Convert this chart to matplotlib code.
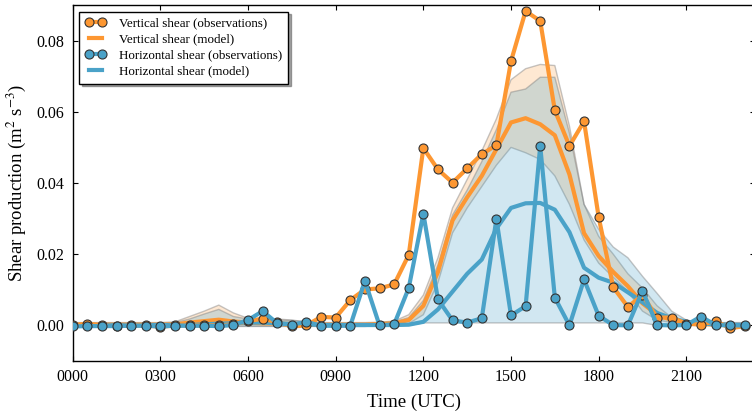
import matplotlib
matplotlib.use("Agg")
import matplotlib.pyplot as plt
import numpy as np

plt.rcParams['font.family'] = ['Liberation Serif', 'DejaVu Serif']
plt.rcParams['mathtext.fontset'] = 'stix'

hours = [0.0, 0.5, 1.0, 1.5, 2.0, 2.5, 3.0, 3.5, 4.0, 4.5, 5.0, 5.5, 6.0, 6.5, 7.0, 7.5,
         8.0, 8.5, 9.0, 9.5, 10.0, 10.5, 11.0, 11.5, 12.0, 12.5, 13.0, 13.5, 14.0, 14.5,
         15.0, 15.5, 16.0, 16.5, 17.0, 17.5, 18.0, 18.5, 19.0, 19.5, 20.0, 20.5, 21.0,
         21.5, 22.0, 22.5, 23.0]

vert_obs = [0.0, 0.0005, 0.0, -0.0002, 0.0, 0.0, -0.0004, 0.0, 0.0, 0.0, 0.0, 0.0003,
            0.0012, 0.0019, 0.0009, -0.0003, 0.0, 0.0024, 0.0022, 0.0071, 0.0101, 0.0104,
            0.0115, 0.0198, 0.0498, 0.0438, 0.0401, 0.0441, 0.0481, 0.0506, 0.0742, 0.0883,
            0.0855, 0.0604, 0.0504, 0.0573, 0.0304, 0.0107, 0.0052, 0.0085, 0.0022, 0.0022,
            0.0005, 0.0002, 0.0012, -0.0008, -0.0002]

horiz_obs = [-0.0003, -0.0002, -0.0002, -0.0002, -0.0001, -0.0001, -0.0003, -0.0001,
             -0.0001, -0.0001, -0.0002, 0.0001, 0.0015, 0.0040, 0.0006, 0.0002, 0.0010,
             -0.0001, -0.0001, -0.0001, 0.0125, 0.0, 0.0003, 0.0105, 0.0314, 0.0073, 0.0014,
             0.0008, 0.0020, 0.0299, 0.0028, 0.0054, 0.0504, 0.0078, 0.0, 0.0129, 0.0027,
             0.0001, 0.0, 0.0097, 0.0001, 0.0, 0.0001, 0.0025, 0.0001, 0.0, 0.0]

vert_model = [0.0002, 0.0002, 0.0002, 0.0002, 0.0002, 0.0002, 0.0002, 0.0003, 0.0008,
              0.0012, 0.0016, 0.0011, 0.0008, 0.0006, 0.0005, 0.0004, 0.0003, 0.0002,
              0.0002, 0.0002, 0.0002, 0.0004, 0.0006, 0.0015, 0.0055, 0.0150, 0.0295,
              0.0360, 0.0420, 0.0495, 0.0570, 0.0582, 0.0565, 0.0534, 0.0424, 0.0259,
              0.0195, 0.0150, 0.0110, 0.0062, 0.0030, 0.0015, 0.0008, 0.0004, 0.0002,
              0.0001, 0.0001]

horiz_model = [0.0001, 0.0001, 0.0001, 0.0001, 0.0001, 0.0001, 0.0001, 0.0001, 0.0001,
               0.0003, 0.0005, 0.0006, 0.0008, 0.0008, 0.0006, 0.0004, 0.0003, 0.0001,
               0.0001, 0.0001, 0.0001, 0.0001, 0.0001, 0.0002, 0.0010, 0.0045, 0.0095,
               0.0145, 0.0185, 0.0272, 0.0330, 0.0343, 0.0344, 0.0325, 0.0262, 0.0162,
               0.0134, 0.0120, 0.0093, 0.0065, 0.0035, 0.0020, 0.0010, 0.0005, 0.0003,
               0.0002, 0.0001]

vert_upper = [0.0008, 0.0008, 0.0008, 0.0008, 0.0008, 0.0008, 0.0008, 0.0010, 0.0025,
              0.0040, 0.0057, 0.0035, 0.0020, 0.0018, 0.0018, 0.0015, 0.0010, 0.0008,
              0.0008, 0.0008, 0.0008, 0.0009, 0.0012, 0.0030, 0.0085, 0.0190, 0.0330,
              0.0410, 0.0490, 0.0580, 0.0690, 0.0721, 0.0733, 0.0730, 0.0560, 0.0340,
              0.0250, 0.0200, 0.0145, 0.0105, 0.0055, 0.0022, 0.0010, 0.0006, 0.0006,
              0.0006, 0.0006]

vert_lower = [-0.0004, -0.0004, -0.0004, -0.0004, -0.0004, -0.0004, -0.0004, -0.0003,
              -0.0002, -0.0002, -0.0002, -0.0002, -0.0002, -0.0002, -0.0002, -0.0002,
              -0.0002, -0.0002, -0.0002, -0.0002, -0.0002, -0.0002, -0.0002, 0.0005,
              0.0030, 0.0120, 0.0260, 0.0330, 0.0390, 0.0450, 0.0500, 0.0485, 0.0466,
              0.0420, 0.0340, 0.0240, 0.0175, 0.0135, 0.0095, 0.0040, 0.0015, 0.0008,
              0.0002, 0.0002, 0.0002, 0.0002, 0.0002]

horiz_upper = [0.0006, 0.0006, 0.0006, 0.0006, 0.0006, 0.0006, 0.0006, 0.0008, 0.0018,
               0.0032, 0.0045, 0.0025, 0.0018, 0.0015, 0.0015, 0.0014, 0.0010, 0.0006,
               0.0006, 0.0006, 0.0006, 0.0007, 0.0010, 0.0022, 0.0070, 0.0170, 0.0310,
               0.0380, 0.0460, 0.0550, 0.0655, 0.0664, 0.0697, 0.0697, 0.0540, 0.0340,
               0.0270, 0.0220, 0.0190, 0.0138, 0.0090, 0.0040, 0.0015, 0.0008, 0.0008,
               0.0008, 0.0008]

horiz_lower = [-0.0003, -0.0003, -0.0003, -0.0003, -0.0003, -0.0003, -0.0003, -0.0003,
               -0.0003, -0.0003, -0.0003, -0.0003, -0.0003, -0.0003, -0.0003, -0.0003,
               -0.0003, -0.0003, -0.0003, -0.0003, -0.0003, 0.0, 0.0, 0.0, 0.0007, 0.0007,
               0.0007, 0.0007, 0.0007, 0.0007, 0.0007, 0.0007, 0.0007, 0.0007, 0.0007,
               0.0007, 0.0007, 0.0007, 0.0007, 0.0007, 0.0, 0.0, 0.0, 0.0, 0.0, 0.0, 0.0]

xtick_pos = [0, 3, 6, 9, 12, 15, 18, 21]
xtick_labels = ['0000', '0300', '0600', '0900', '1200', '1500', '1800', '2100']
ytick_pos = [0.00, 0.02, 0.04, 0.06, 0.08]

ORANGE = '#fd9732'
BLUE = '#4aa2c8'

fig = plt.figure(figsize=(7.52, 4.15), dpi=100)
ax = fig.add_axes([72.7 / 752, 54 / 415, (755 - 72.7) / 752, 356 / 415])

# orange (vertical) model spread, then blue (horizontal) spread on top
ax.fill_between(hours, vert_lower, vert_upper, facecolor=ORANGE, alpha=0.22,
                edgecolor='none', zorder=1)
ax.plot(hours, vert_upper, color='gray', alpha=0.45, lw=1, zorder=1.1)
ax.plot(hours, vert_lower, color='gray', alpha=0.45, lw=1, zorder=1.1)
ax.fill_between(hours, horiz_lower, horiz_upper, facecolor=BLUE, alpha=0.25,
                edgecolor='none', zorder=1.2)
ax.plot(hours, horiz_upper, color='gray', alpha=0.45, lw=1, zorder=1.3)
ax.plot(hours, horiz_lower, color='gray', alpha=0.45, lw=1, zorder=1.3)

l1, = ax.plot(hours, vert_obs, '-o', color=ORANGE, lw=3, ms=6.5, mec='#333333', mew=0.8,
              zorder=4, label='Vertical shear (observations)')
l2, = ax.plot(hours, vert_model, '-', color=ORANGE, lw=3, zorder=3,
              label='Vertical shear (model)')
l3, = ax.plot(hours, horiz_obs, '-o', color=BLUE, lw=3, ms=6.5, mec='#333333', mew=0.8,
              zorder=5, label='Horizontal shear (observations)')
l4, = ax.plot(hours, horiz_model, '-', color=BLUE, lw=3, zorder=3.5,
              label='Horizontal shear (model)')

ax.set_xlim(0, (755 - 72.7) / 29.22)
ax.set_ylim(-0.01, 0.09)
ax.set_xticks(xtick_pos)
ax.set_xticklabels(xtick_labels)
ax.set_yticks(ytick_pos)
ax.set_yticklabels(['%.2f' % v for v in ytick_pos])
ax.tick_params(direction='in', length=3.5, width=0.8, top=True, right=True,
               labelsize=11.5, pad=6)
for s in ax.spines.values():
    s.set_linewidth(1.0)

ax.set_xlabel('Time (UTC)', fontsize=13.5, labelpad=6)
ax.set_ylabel(r'Shear production (m$^2$ s$^{-3}$)', fontsize=13.5, labelpad=6)

leg = ax.legend(handles=[l1, l2, l3, l4], loc='upper left', fontsize=9.4, numpoints=2,
                handlelength=1.6, handletextpad=1.0, labelspacing=0.3,
                borderpad=0.45, borderaxespad=0.5, fancybox=False, shadow=True,
                framealpha=1)
leg.get_frame().set_edgecolor('black')
leg.get_frame().set_linewidth(1.0)

fig.savefig('out.png', dpi=100)
